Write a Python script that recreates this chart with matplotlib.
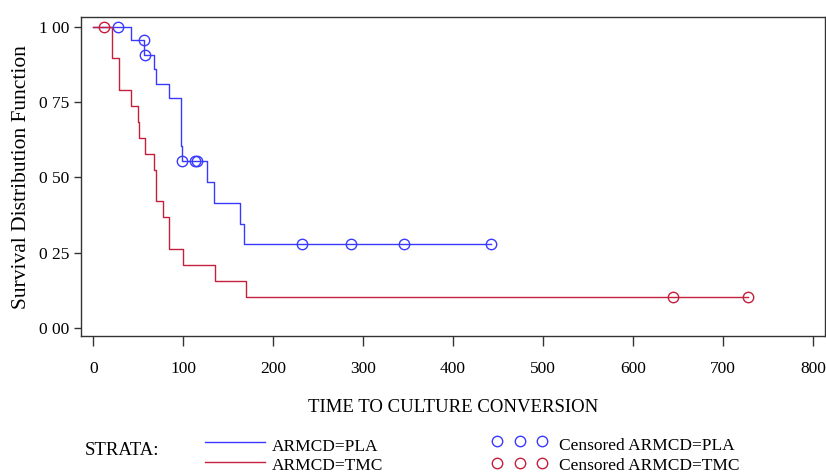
import numpy as np
import matplotlib.pyplot as plt
from matplotlib.lines import Line2D

# Kaplan-Meier steps
pla_time = [0, 42, 56, 67.5, 70, 84, 98, 99, 126, 134, 163, 168, 442]
pla_surv = [1.0, 0.955, 0.907, 0.859, 0.811, 0.763, 0.604, 0.556, 0.486, 0.417, 0.347, 0.278, 0.278]
pla_cens_time = [28, 56, 57, 99, 113, 115, 232, 287, 345, 442]
pla_cens_surv = [1.0, 0.955, 0.907, 0.556, 0.556, 0.556, 0.278, 0.278, 0.278, 0.278]

tmc_time = [0, 21, 29, 42, 50, 51, 57, 67.5, 70, 78, 84, 100, 135, 170, 728]
tmc_surv = [1.0, 0.895, 0.789, 0.737, 0.684, 0.632, 0.579, 0.526, 0.421, 0.368, 0.263,
            0.211, 0.158, 0.105, 0.105]
tmc_cens_time = [12, 645, 728]
tmc_cens_surv = [1.0, 0.105, 0.105]

x_ticks = [0, 100, 200, 300, 400, 500, 600, 700, 800]
y_ticks = [0.0, 0.25, 0.5, 0.75, 1.0]
y_ticklabels = ['0 00', '0 25', '0 50', '0 75', '1 00']

BLUE = '#3a3aff'
RED = '#c4203c'
W, H = 826, 473

plt.rcParams['font.family'] = ['Liberation Serif', 'DejaVu Serif']

fig = plt.figure(figsize=(W / 100, H / 100), dpi=100)
ax = fig.add_axes([80.7 / W, 1 - 336 / H, (825 - 80.7) / W, (336 - 17.3) / H])

ax.step(pla_time, pla_surv, where='post', color=BLUE, lw=1)
ax.plot(pla_cens_time, pla_cens_surv, 'o', mfc='none', mec=BLUE, ms=7.5, mew=1)
ax.step(tmc_time, tmc_surv, where='post', color=RED, lw=1)
ax.plot(tmc_cens_time, tmc_cens_surv, 'o', mfc='none', mec=RED, ms=7.5, mew=1)

ax.set_xlim(-14, 813.5)
ax.set_ylim(-0.0255, 1.031)
ax.set_xticks(x_ticks)
ax.set_yticks(y_ticks)
ax.set_yticklabels(y_ticklabels)
ax.tick_params(axis='x', direction='out', length=7, width=1, pad=11, labelsize=12.5, color='#333333')
ax.tick_params(axis='y', direction='out', length=5, width=1, pad=3, labelsize=12.5, color='#333333')
for s in ax.spines.values():
    s.set_color('#333333')
    s.set_linewidth(1)

ax.set_xlabel('TIME TO CULTURE CONVERSION', fontsize=13.5, labelpad=16)
ax.set_ylabel('Survival Distribution Function', fontsize=15.5, labelpad=6)

# legend drawn in figure pixels
def fy(py):
    return 1 - py / H

fig.text(85 / W, fy(450), 'STRATA:', fontsize=13.5, va='center')
fig.add_artist(Line2D([205 / W, 265 / W], [fy(442), fy(442)], color=BLUE, lw=1))
fig.add_artist(Line2D([205 / W, 265 / W], [fy(461.5), fy(461.5)], color=RED, lw=1))
fig.text(272 / W, fy(446.5), 'ARMCD=PLA', fontsize=12.5, va='center')
fig.text(272 / W, fy(466), 'ARMCD=TMC', fontsize=12.5, va='center')
for cx in [497, 519.5, 542]:
    fig.add_artist(Line2D([cx / W], [fy(441)], marker='o', mfc='none', mec=BLUE, ms=7.5, mew=1))
    fig.add_artist(Line2D([cx / W], [fy(463)], marker='o', mfc='none', mec=RED, ms=7.5, mew=1))
fig.text(559 / W, fy(445.5), 'Censored ARMCD=PLA', fontsize=12.5, va='center')
fig.text(559 / W, fy(465.5), 'Censored ARMCD=TMC', fontsize=12.5, va='center')

fig.savefig('out.png', dpi=100)
